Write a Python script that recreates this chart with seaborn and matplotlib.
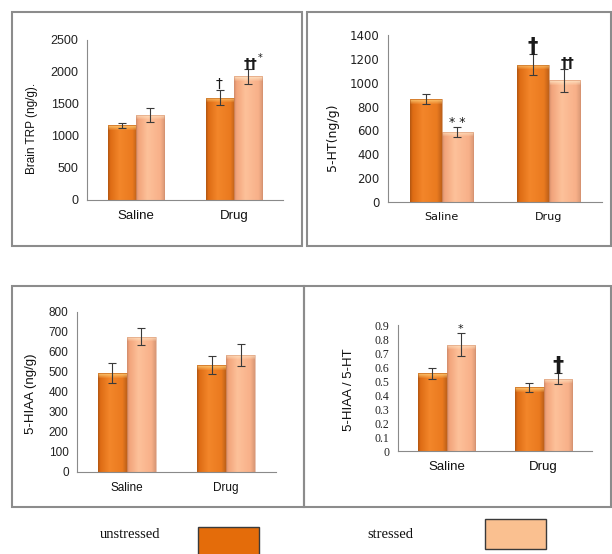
import numpy as np
import pandas as pd
import matplotlib
matplotlib.use("Agg")
import matplotlib.pyplot as plt
import seaborn as sns
from matplotlib.colors import LinearSegmentedColormap, to_rgb
from matplotlib.patches import Rectangle
from matplotlib.ticker import MultipleLocator, FixedLocator

sns.set_style("white")
plt.rcParams["font.family"] = ["Liberation Sans", "DejaVu Sans"]

# ---- data ----
categories = ["Saline", "Drug"]
conditions = ["unstressed", "stressed"]

trp_unstressed = [1165, 1600]
trp_unstressed_err = [45, 115]
trp_stressed = [1330, 1930]
trp_stressed_err = [110, 115]

ht_unstressed = [860, 1150]
ht_unstressed_err = [42, 87]
ht_stressed = [590, 1020]
ht_stressed_err = [42, 98]

hiaa_unstressed = [495, 535]
hiaa_unstressed_err = [52, 46]
hiaa_stressed = [677, 587]
hiaa_stressed_err = [44, 55]

ratio_unstressed = [0.555, 0.455]
ratio_unstressed_err = [0.038, 0.030]
ratio_stressed = [0.760, 0.517]
ratio_stressed_err = [0.080, 0.037]

palette = {"unstressed": "#E46C0A", "stressed": "#FAC090"}

# horizontal shading of each bar and the highlight colour at its top
shading = {
    "unstressed": ([(0.0, "#B65812"), (0.08, "#DE6C14"), (0.40, "#F3862A"),
                    (0.85, "#EA7A1F"), (1.0, "#BF6119")], "#FFD07A"),
    "stressed": ([(0.0, "#D48E6C"), (0.08, "#F2A47B"), (0.40, "#FDC19A"),
                  (0.85, "#F8B089"), (1.0, "#D99876")], "#FFE8C8"),
}

W, H = 612, 554
fig = plt.figure(figsize=(W / 100, H / 100), dpi=100)
fig.patch.set_facecolor("white")


def fig_rect(left, top, right, bottom):
    return [left / W, 1 - bottom / H, (right - left) / W, (bottom - top) / H]


# panel frames
for (l, t, r, b) in [(12, 12, 302, 246), (307, 12, 611, 246),
                     (12, 286, 304, 507), (304, 286, 611, 507)]:
    fig.patches.append(Rectangle((l / W, 1 - b / H), (r - l) / W, (b - t) / H,
                                 transform=fig.transFigure, fill=False,
                                 edgecolor="#8C8C8C", linewidth=1.5, zorder=0))


def shade_bars(ax, hue_of_patch):
    y0, y1 = ax.get_ylim()
    ax_h_px = ax.get_position().height * H
    for p, hue in hue_of_patch:
        stops, top_col = shading[hue]
        cmap = LinearSegmentedColormap.from_list(hue, stops)
        nx = 64
        h = p.get_height()
        ny = max(int(round(h / (y1 - y0) * ax_h_px)), 2)
        row = cmap(np.linspace(0, 1, nx))[:, :3]
        img = np.repeat(row[None, :, :], ny, axis=0)
        band = 5
        tc = np.array(to_rgb(top_col))
        for k in range(min(band, ny)):
            a = 0.85 * (1 - k / band)
            img[k] = img[k] * (1 - a) + tc * a
        img[0] = img[0] * 0.6 + np.array(to_rgb(stops[2][1])) * 0.4
        x0 = p.get_x()
        im = ax.imshow(img, extent=(x0, x0 + p.get_width(), 0, h), origin="upper",
                       aspect="auto", interpolation="bilinear",
                       zorder=p.get_zorder() + 0.1)
        im.set_clip_path(p)
        ax.add_patch(Rectangle((x0, 0), p.get_width(), h, fill=False,
                               edgecolor=stops[0][1], linewidth=0.5, alpha=0.7,
                               zorder=p.get_zorder() + 0.2))


def panel(rect, unst, unst_err, strs, strs_err, ymax, ystep, ylabel, ylab_xy,
          tick_font, tick_size, xtick_font, xtick_size, ylab_font, ylab_size,
          notes, ratio=False):
    ax = fig.add_axes(fig_rect(*rect))
    df = pd.DataFrame({
        "group": categories * 2,
        "condition": [conditions[0]] * 2 + [conditions[1]] * 2,
        "value": list(unst) + list(strs),
    })
    sns.barplot(data=df, x="group", y="value", hue="condition",
                order=categories, hue_order=conditions, palette=palette,
                width=0.58, saturation=1, errorbar=None, legend=False, ax=ax)
    ax.set_xlim(-0.5, 1.5)
    ax.set_ylim(0, ymax)

    bars = sorted([p for p in ax.patches if p.get_height() > 0], key=lambda p: p.get_x())
    hues = [conditions[0], conditions[1]] * 2
    shade_bars(ax, list(zip(bars, hues)))

    means = [unst[0], strs[0], unst[1], strs[1]]
    errs = [unst_err[0], strs_err[0], unst_err[1], strs_err[1]]
    centers = [p.get_x() + p.get_width() / 2 for p in bars]
    ax.errorbar(centers, means, yerr=errs, fmt="none", ecolor="#3A3A3A",
                elinewidth=0.8, capsize=3, capthick=0.8, zorder=6)
    ax.set_xlim(-0.5, 1.5)
    ax.set_ylim(0, ymax)

    lookup = {(c, h): i for i, (c, h) in
              enumerate([(categories[0], conditions[0]), (categories[0], conditions[1]),
                         (categories[1], conditions[0]), (categories[1], conditions[1])])}
    for cat, hue, txt, size, weight, dx, dy in notes:
        i = lookup[(cat, hue)]
        ax.text(centers[i] + dx, means[i] + errs[i] + dy, txt, ha="center",
                va="baseline", fontsize=size, fontweight=weight, color="#1A1A1A",
                family="DejaVu Sans", zorder=7)

    # axes styling
    for s in ["top", "right"]:
        ax.spines[s].set_visible(False)
    for s in ["left", "bottom"]:
        ax.spines[s].set_color("#8A8A8A")
        ax.spines[s].set_linewidth(0.8)
    ax.yaxis.set_major_locator(MultipleLocator(ystep))
    ticks = np.round(np.arange(0, ymax + ystep / 2, ystep), 3)
    if ratio:
        labels = ["0"] + [f"{t:.1f}" for t in ticks[1:]]
    else:
        labels = [f"{int(t)}" for t in ticks]
    ax.set_yticks(ticks)
    ax.set_yticklabels(labels, fontfamily=tick_font, fontsize=tick_size, color="#222222")
    ax.tick_params(axis="y", direction="out", length=3, width=0.8, color="#8A8A8A", pad=3)
    ax.set_xticks([0, 1])
    ax.set_xticklabels(categories, fontfamily=xtick_font, fontsize=xtick_size, color="#111111")
    ax.xaxis.set_minor_locator(FixedLocator([-0.5, 0.5, 1.5]))
    ax.tick_params(axis="x", which="major", length=0, pad=7)
    ax.tick_params(axis="x", which="minor", direction="out", length=4, width=0.8, color="#8A8A8A")
    ax.set_xlabel("")
    ax.set_ylabel("")
    ax.text(ylab_xy[0], ylab_xy[1], ylabel, transform=ax.transAxes, rotation=90,
            ha="center", va="center", fontfamily=ylab_font, fontsize=ylab_size, color="#111111")
    ax.set_facecolor("none")
    return ax


# Brain TRP
panel((87, 40, 283, 200), trp_unstressed, trp_unstressed_err, trp_stressed, trp_stressed_err,
      2500, 500, "Brain TRP (ng/g).", (-0.28, 0.45),
      "Liberation Sans", 9, "Liberation Sans", 9.5, "Liberation Sans", 8.5,
      [("Drug", "unstressed", "\u2020", 10, "normal", -0.01, 40),
       ("Drug", "stressed", "\u2020\u2020", 10, "bold", 0.02, 20),
       ("Drug", "stressed", "*", 7, "normal", 0.12, 120)])

# 5-HT
panel((388, 35, 602, 202), ht_unstressed, ht_unstressed_err, ht_stressed, ht_stressed_err,
      1400, 200, "5-HT(ng/g)", (-0.26, 0.39),
      "DejaVu Sans", 8.5, "DejaVu Sans", 8, "DejaVu Sans", 9,
      [("Saline", "stressed", "* *", 9, "normal", 0.0, 8),
       ("Drug", "unstressed", "\u2020", 15, "bold", 0.0, 15),
       ("Drug", "stressed", "\u2020\u2020", 10, "bold", 0.03, 10)])

# 5-HIAA
panel((77, 312, 276, 472), hiaa_unstressed, hiaa_unstressed_err, hiaa_stressed, hiaa_stressed_err,
      800, 100, "5-HIAA (ng/g)", (-0.23, 0.49),
      "Liberation Sans", 8.5, "Liberation Sans", 8.5, "Liberation Sans", 9.5, [])

# 5-HIAA / 5-HT ratio
panel((398, 325, 592, 451), ratio_unstressed, ratio_unstressed_err, ratio_stressed, ratio_stressed_err,
      0.9, 0.1, "5-HIAA / 5-HT", (-0.25, 0.49),
      "Liberation Serif", 8.5, "Liberation Sans", 9.5, "Liberation Sans", 9.5,
      [("Saline", "stressed", "*", 8, "normal", 0.0, 0.01),
       ("Drug", "stressed", "\u2020", 16, "bold", 0.0, 0.012)], ratio=True)

# legend row
fig.text(100 / W, 1 - 534 / H, "unstressed", ha="left", va="center",
         fontfamily="Liberation Serif", fontsize=10.5, color="#111111")
fig.patches.append(Rectangle((198 / W, 1 - 556 / H), 61 / W, 29 / H, transform=fig.transFigure,
                             facecolor=palette["unstressed"], edgecolor="#3A3A3A", linewidth=1.0))
fig.text(367 / W, 1 - 534 / H, "stressed", ha="left", va="center",
         fontfamily="Liberation Serif", fontsize=10.5, color="#111111")
fig.patches.append(Rectangle((485 / W, 1 - 549 / H), 61 / W, 30 / H, transform=fig.transFigure,
                             facecolor=palette["stressed"], edgecolor="#3A3A3A", linewidth=1.0))

fig.savefig("out.png", dpi=100, facecolor="white")
